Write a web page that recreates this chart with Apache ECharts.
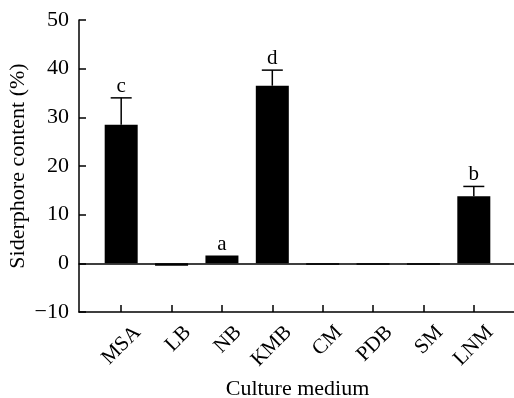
<!DOCTYPE html>
<html><head><meta charset="utf-8">
<script src="https://cdn.jsdelivr.net/npm/echarts@6/dist/echarts.min.js"></script>
<style>html,body{margin:0;padding:0;background:#fff}#c{width:514px;height:398px}</style>
</head><body><div id="c"></div>
<script>
var categories = ['MSA','LB','NB','KMB','CM','PDB','SM','LNM'];
var values = [28.5, -0.5, 1.6, 36.5, -0.3, -0.3, -0.3, 13.8];
var upperErrors = [5.5, 0, 0, 3.2, 0, 0, 0, 2.0];
var letters = ['c', '', 'a', 'd', '', '', '', 'b'];
var yTicks = [-10, 0, 10, 20, 30, 40, 50];

var FONT = 'Liberation Serif';
var chart = echarts.init(document.getElementById('c'));
var errData = values.map(function (v, i) { return [i, v, upperErrors[i]]; });

chart.setOption({
  animation: false,
  backgroundColor: '#fff',
  grid: [
    {left: 79, right: 0, top: 20, bottom: 86, outerBoundsMode: 'none', containLabel: false},
    {left: 96, right: 15, top: 20, bottom: 86, outerBoundsMode: 'none', containLabel: false}
  ],
  xAxis: [
    {gridIndex: 0, type: 'value', min: 0, max: 1, position: 'bottom',
     axisLine: {show: true, onZero: false, lineStyle: {color: '#000', width: 1.5}},
     axisTick: {show: false}, axisLabel: {show: false}, splitLine: {show: false}},
    {gridIndex: 1, type: 'category', data: categories, boundaryGap: true,
     axisLine: {show: false, onZero: false},
     axisTick: {show: true, inside: true, length: 7, alignWithLabel: true, lineStyle: {color: '#000', width: 1.5}},
     axisLabel: {rotate: 45, interval: 0, margin: 1, color: '#000', fontFamily: FONT, fontSize: 21,
       verticalAlign: 'top', lineHeight: 46},
     name: 'Culture medium', nameLocation: 'middle', nameGap: 66, nameMoveOverlap: false,
     nameTextStyle: {color: '#000', fontFamily: FONT, fontSize: 22}},
    {gridIndex: 0, type: 'value', min: 0, max: 1, position: 'top',
     axisLine: {show: true, onZero: true, onZeroAxisIndex: 0, lineStyle: {color: '#000', width: 1.5}},
     axisTick: {show: false}, axisLabel: {show: false}, splitLine: {show: false}}
  ],
  yAxis: [
    {gridIndex: 0, type: 'value', min: yTicks[0], max: yTicks[yTicks.length - 1], interval: 10,
     axisLine: {show: true, lineStyle: {color: '#000', width: 1.5}},
     axisTick: {show: true, inside: true, length: 7, lineStyle: {color: '#000', width: 1.5}},
     axisLabel: {color: '#000', fontFamily: FONT, fontSize: 22, margin: 10,
       formatter: function (v) { return v < 0 ? '\u2212' + Math.abs(v) : String(v); }},
     splitLine: {show: false},
     name: 'Siderphore content (%)', nameLocation: 'middle', nameGap: 50, nameMoveOverlap: false,
     nameTextStyle: {color: '#000', fontFamily: FONT, fontSize: 22}},
    {gridIndex: 1, type: 'value', min: yTicks[0], max: yTicks[yTicks.length - 1], interval: 10, show: false}
  ],
  series: [
    {type: 'bar', xAxisIndex: 1, yAxisIndex: 1, data: values, barWidth: 33,
     itemStyle: {color: '#000'}},
    {type: 'custom', xAxisIndex: 1, yAxisIndex: 1, data: errData,
     renderItem: function (params, api) {
       var i = api.value(0), v = api.value(1), e = api.value(2);
       var base = api.coord([i, v]);
       var top = api.coord([i, v + e]);
       var children = [];
       if (e > 0) {
         children.push({type: 'line', shape: {x1: base[0], y1: base[1], x2: top[0], y2: top[1]},
           style: {stroke: '#000', lineWidth: 1.5}});
         children.push({type: 'line', shape: {x1: top[0] - 10.5, y1: top[1], x2: top[0] + 10.5, y2: top[1]},
           style: {stroke: '#000', lineWidth: 1.5}});
       }
       var L = letters[params.dataIndex];
       if (L) {
         children.push({type: 'text', x: top[0], y: top[1] - 1,
           style: {text: L, fill: '#000', font: '21px "' + FONT + '"', align: 'center', verticalAlign: 'bottom'}});
       }
       return {type: 'group', children: children};
     }}
  ]
});
</script></body></html>
